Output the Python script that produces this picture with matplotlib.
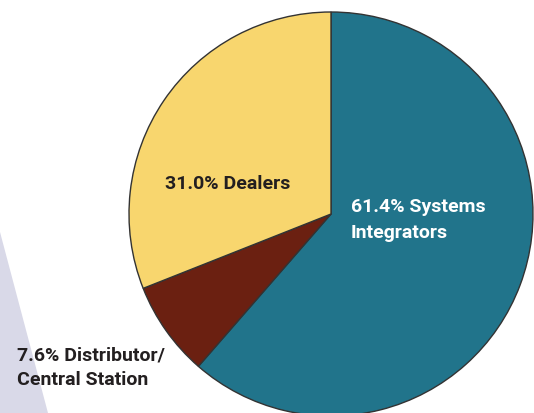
import matplotlib
matplotlib.use("Agg")
import matplotlib.pyplot as plt
from matplotlib.patches import Polygon

# Datos del gráfico (porcentajes)
categorias = ["Systems Integrators", "Distributor/Central Station", "Dealers"]
valores = [61.4, 7.6, 31.0]
colores = ["#21748B", "#6B2011", "#F8D66E"]

plt.rcParams['font.family'] = ['Roboto', 'DejaVu Sans']

fig = plt.figure(figsize=(5.34, 4.13), dpi=100)
ax = fig.add_axes([0, 0, 1, 1])

# Fondo decorativo lavanda en la esquina inferior izquierda
ax.add_patch(Polygon([(0, 181), (48, 0), (0, 0)], closed=True,
                     facecolor="#D9D9E8", edgecolor="none", zorder=0))

ax.pie(valores, colors=colores, startangle=90, counterclock=False,
       center=(331, 199), radius=202,
       wedgeprops=dict(edgecolor="#333333", linewidth=1))

ax.set_xlim(0, 534)
ax.set_ylim(0, 413)
ax.set_aspect('auto')
ax.axis('off')

estilo = dict(fontsize=14, fontweight='bold', va='baseline')
oscuro = "#231F20"

ax.text(228, 224, f"{valores[2]:.1f}% Dealers", color=oscuro, ha='center', **estilo)

ax.text(351, 201, f"{valores[0]:.1f}% Systems", color="white", ha='left', **estilo)
ax.text(351, 175, "Integrators", color="white", ha='left', **estilo)

ax.text(17, 53, f"{valores[1]:.1f}% Distributor/", color=oscuro, ha='left', **estilo)
ax.text(17, 28, "Central Station", color=oscuro, ha='left', **estilo)

fig.savefig("out.png", dpi=100)
